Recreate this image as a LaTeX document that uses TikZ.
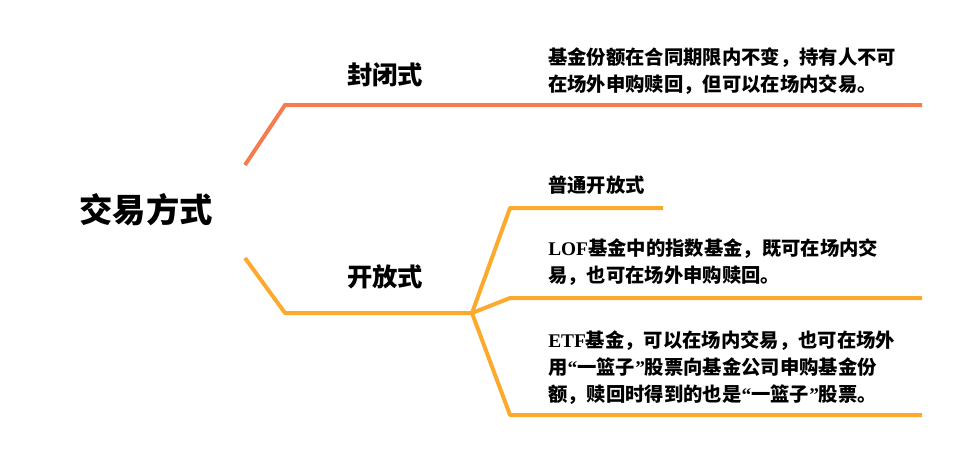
\documentclass[tikz,border=0pt]{standalone}
\usepackage{fontspec}
\setmainfont{Noto Sans CJK SC}
\newfontfamily\latinserif{Liberation Serif}
\newcommand{\openq}{{\latinserif\bfseries “}}
\newcommand{\closeq}{{\latinserif\bfseries ”}}
\definecolor{closedline}{HTML}{F47C4F}
\definecolor{openline}{HTML}{FBAA2E}
\tikzset{
  rootlabel/.style={font=\fontsize{25}{30}\selectfont\bfseries, anchor=center},
  branchlabel/.style={font=\fontsize{19}{23}\selectfont\bfseries, anchor=center},
  desclabel/.style={font=\fontsize{14.5}{20.3}\selectfont\bfseries, anchor=west, align=left, inner sep=0pt},
  closedbranch/.style={closedline, line width=3pt},
  openbranch/.style={openline, line width=3pt}
}
\begin{document}
\begin{tikzpicture}[x=0.75pt,y=-0.75pt]
	\useasboundingbox (0,0) rectangle (960,458);
	
	\node[rootlabel] (root) at (146,210) {交易方式};
	\node[branchlabel] (closed) at (385,75) {封闭式};
	\node[branchlabel] (open) at (385,277) {开放式};
	
	% closed-end branch
	\coordinate (c0) at (245,165);
	\coordinate (c1) at (285,105);
	\coordinate (c2) at (922,105);
	\draw[closedbranch] (c0) -- (c1) -- (c2);
	\node[desclabel] (closeddesc) at (548,71) {基金份额在合同期限内不变，持有人不可\\在场外申购赎回，但可以在场内交易。};
	
	% open-end branch
	\coordinate (o0) at (245,258);
	\coordinate (o1) at (285,313);
	\coordinate (fork) at (472,313);
	\coordinate (a0) at (510,208);
	\coordinate (a1) at (663,208);
	\coordinate (b0) at (510,298);
	\coordinate (b1) at (922,298);
	\coordinate (e0) at (510,415);
	\coordinate (e1) at (922,415);
	\draw[openbranch, line join=round] (o0) -- (o1) -- (fork);
	\draw[openbranch, line join=round] (fork) -- (a0) -- (a1);
	\draw[openbranch, line join=round] (fork) -- (b0) -- (b1);
	\draw[openbranch, line join=round] (fork) -- (e0) -- (e1);
	
	\node[desclabel] (plain) at (548,185) {普通开放式};
	\node[desclabel] (lof) at (548,262) {{\latinserif LOF}基金中的指数基金，既可在场内交\\易，也可在场外申购赎回。};
	\node[desclabel] (etf) at (548,368) {{\latinserif ETF}基金，可以在场内交易，也可在场外\\用\openq 一篮子\closeq 股票向基金公司申购基金份\\额，赎回时得到的也是\openq 一篮子\closeq 股票。};
\end{tikzpicture}
\end{document}
